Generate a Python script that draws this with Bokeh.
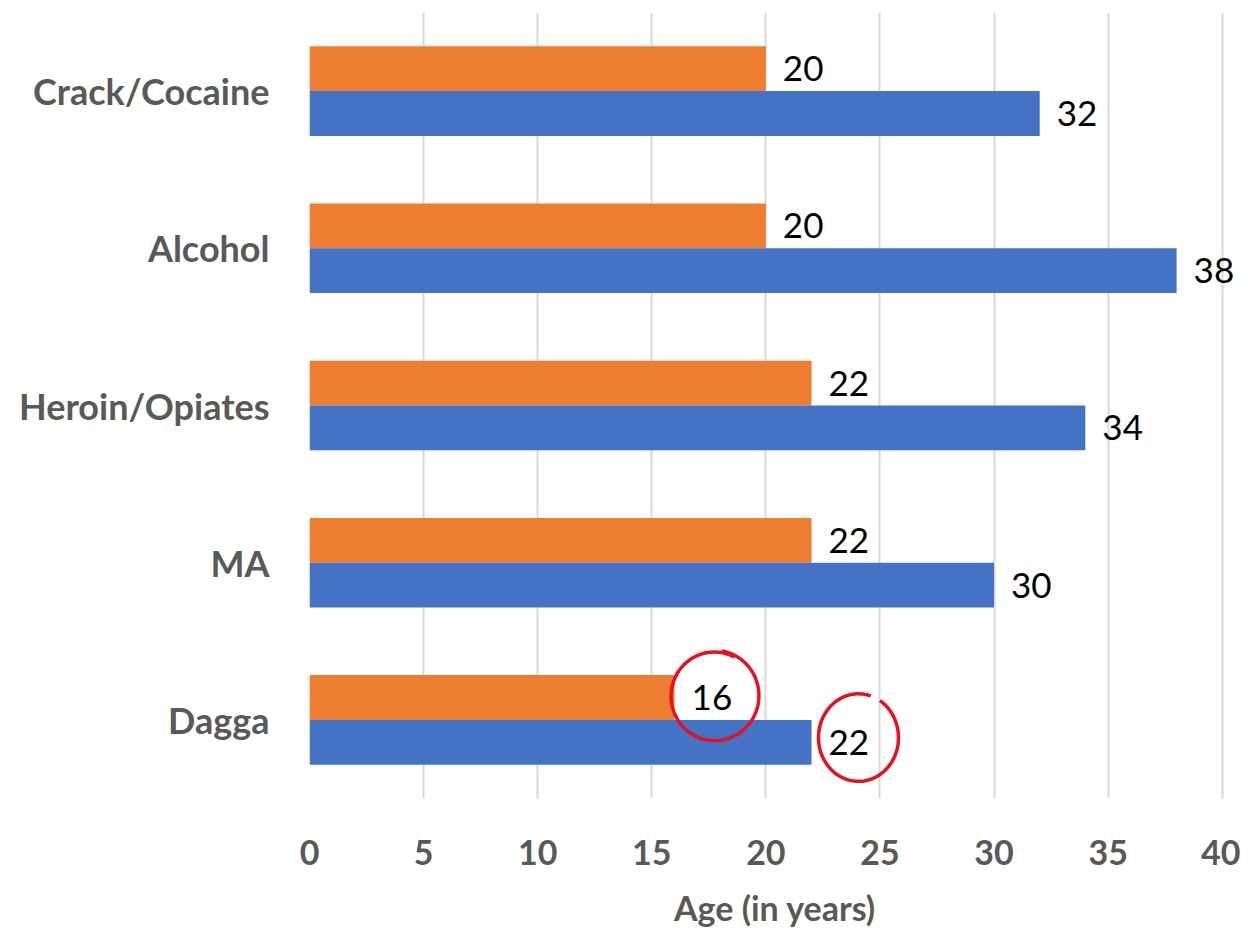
import numpy as np
from bokeh.plotting import figure
from bokeh.models import Range1d, FixedTicker, ColumnDataSource, LabelSet
from bokeh.core.properties import value
from bokeh.embed import file_html
from bokeh.resources import INLINE

# ---- data ----
categories = ["Dagga", "MA", "Heroin/Opiates", "Alcohol", "Crack/Cocaine"]
orange_vals = [16, 22, 22, 20, 20]
blue_vals = [22, 30, 34, 38, 32]
x_ticks = [0, 5, 10, 15, 20, 25, 30, 35, 40]
circled = ["Dagga"]  # labels circled in red

ORANGE = "#ED7D31"
BLUE = "#4472C4"
GREY = "#595959"
RED = "#E3121E"
FONT = "Lato"

ypos = list(range(len(categories)))
OFF = 0.1425
H = 0.285

p = figure(width=1240, height=930, output_backend="svg", toolbar_location=None,
           x_range=Range1d(0, 40.8), y_range=Range1d(-0.5, len(categories) - 0.5),
           min_border_left=309, min_border_right=0, min_border_top=12, min_border_bottom=128)
p.outline_line_color = None

src = ColumnDataSource(dict(
    yo=[y + OFF for y in ypos], yb=[y - OFF for y in ypos],
    o=orange_vals, b=blue_vals,
    ol=[str(v) for v in orange_vals], bl=[str(v) for v in blue_vals]))

p.hbar(y="yo", right="o", left=0, height=H, source=src, fill_color=ORANGE, line_color=None)
p.hbar(y="yb", right="b", left=0, height=H, source=src, fill_color=BLUE, line_color=None)

for xcol, ycol, lcol in (("o", "yo", "ol"), ("b", "yb", "bl")):
    p.add_layout(LabelSet(x=xcol, y=ycol, text=lcol, source=src, x_offset=17, y_offset=0,
                          text_align="left", text_baseline="middle",
                          text_font=value(FONT), text_font_size="35px", text_color="black"))

# hand-drawn red circles around circled labels
pxx = 913 / 40.0
pxy = 158.0
for cat in circled:
    i = categories.index(cat)
    # around orange label
    cx = orange_vals[i] + (17 + 23) / pxx
    cy = i + OFF + 0.01
    t = np.linspace(0.35 * np.pi, 2.45 * np.pi, 120)
    r = 1 + 0.04 * (t - t[0]) / (t[-1] - t[0])
    p.line(cx + r * 43 / pxx * np.cos(t), cy + r * 44 / pxy * np.sin(t), line_color=RED, line_width=3.5)
    # around blue label
    cx2 = blue_vals[i] + (17 + 30) / pxx
    cy2 = i - OFF + 0.03
    t2 = np.linspace(0.28 * np.pi, 2.2 * np.pi, 120)
    p.line(cx2 + 40 / pxx * np.cos(-t2 + 0.6 * np.pi), cy2 + 44 / pxy * np.sin(-t2 + 0.6 * np.pi),
           line_color=RED, line_width=3.5)

# axes
p.xaxis.ticker = FixedTicker(ticks=x_ticks)
p.xaxis.axis_line_color = None
p.xaxis.major_tick_line_color = None
p.xaxis.minor_tick_line_color = None
p.xaxis.major_label_text_font = FONT
p.xaxis.major_label_text_font_style = "bold"
p.xaxis.major_label_text_font_size = "34px"
p.xaxis.major_label_text_color = GREY
p.xaxis.major_label_standoff = 35
p.xaxis.axis_label = "Age (in years)"
p.xaxis.axis_label_text_font = FONT
p.xaxis.axis_label_text_font_style = "bold"
p.xaxis.axis_label_text_font_size = "34px"
p.xaxis.axis_label_text_color = GREY
p.xaxis.axis_label_standoff = 19

p.yaxis.ticker = FixedTicker(ticks=ypos)
p.yaxis.major_label_overrides = {y: c for y, c in zip(ypos, categories)}
p.yaxis.axis_line_color = None
p.yaxis.major_tick_line_color = None
p.yaxis.minor_tick_line_color = None
p.yaxis.major_label_text_font = FONT
p.yaxis.major_label_text_font_style = "bold"
p.yaxis.major_label_text_font_size = "36px"
p.yaxis.major_label_text_color = GREY
p.yaxis.major_label_standoff = 34

p.ygrid.grid_line_color = None
p.xgrid.grid_line_color = "#D9D9D9"
p.xgrid.grid_line_width = 2

open("out.html", "w").write(file_html(p, INLINE))
